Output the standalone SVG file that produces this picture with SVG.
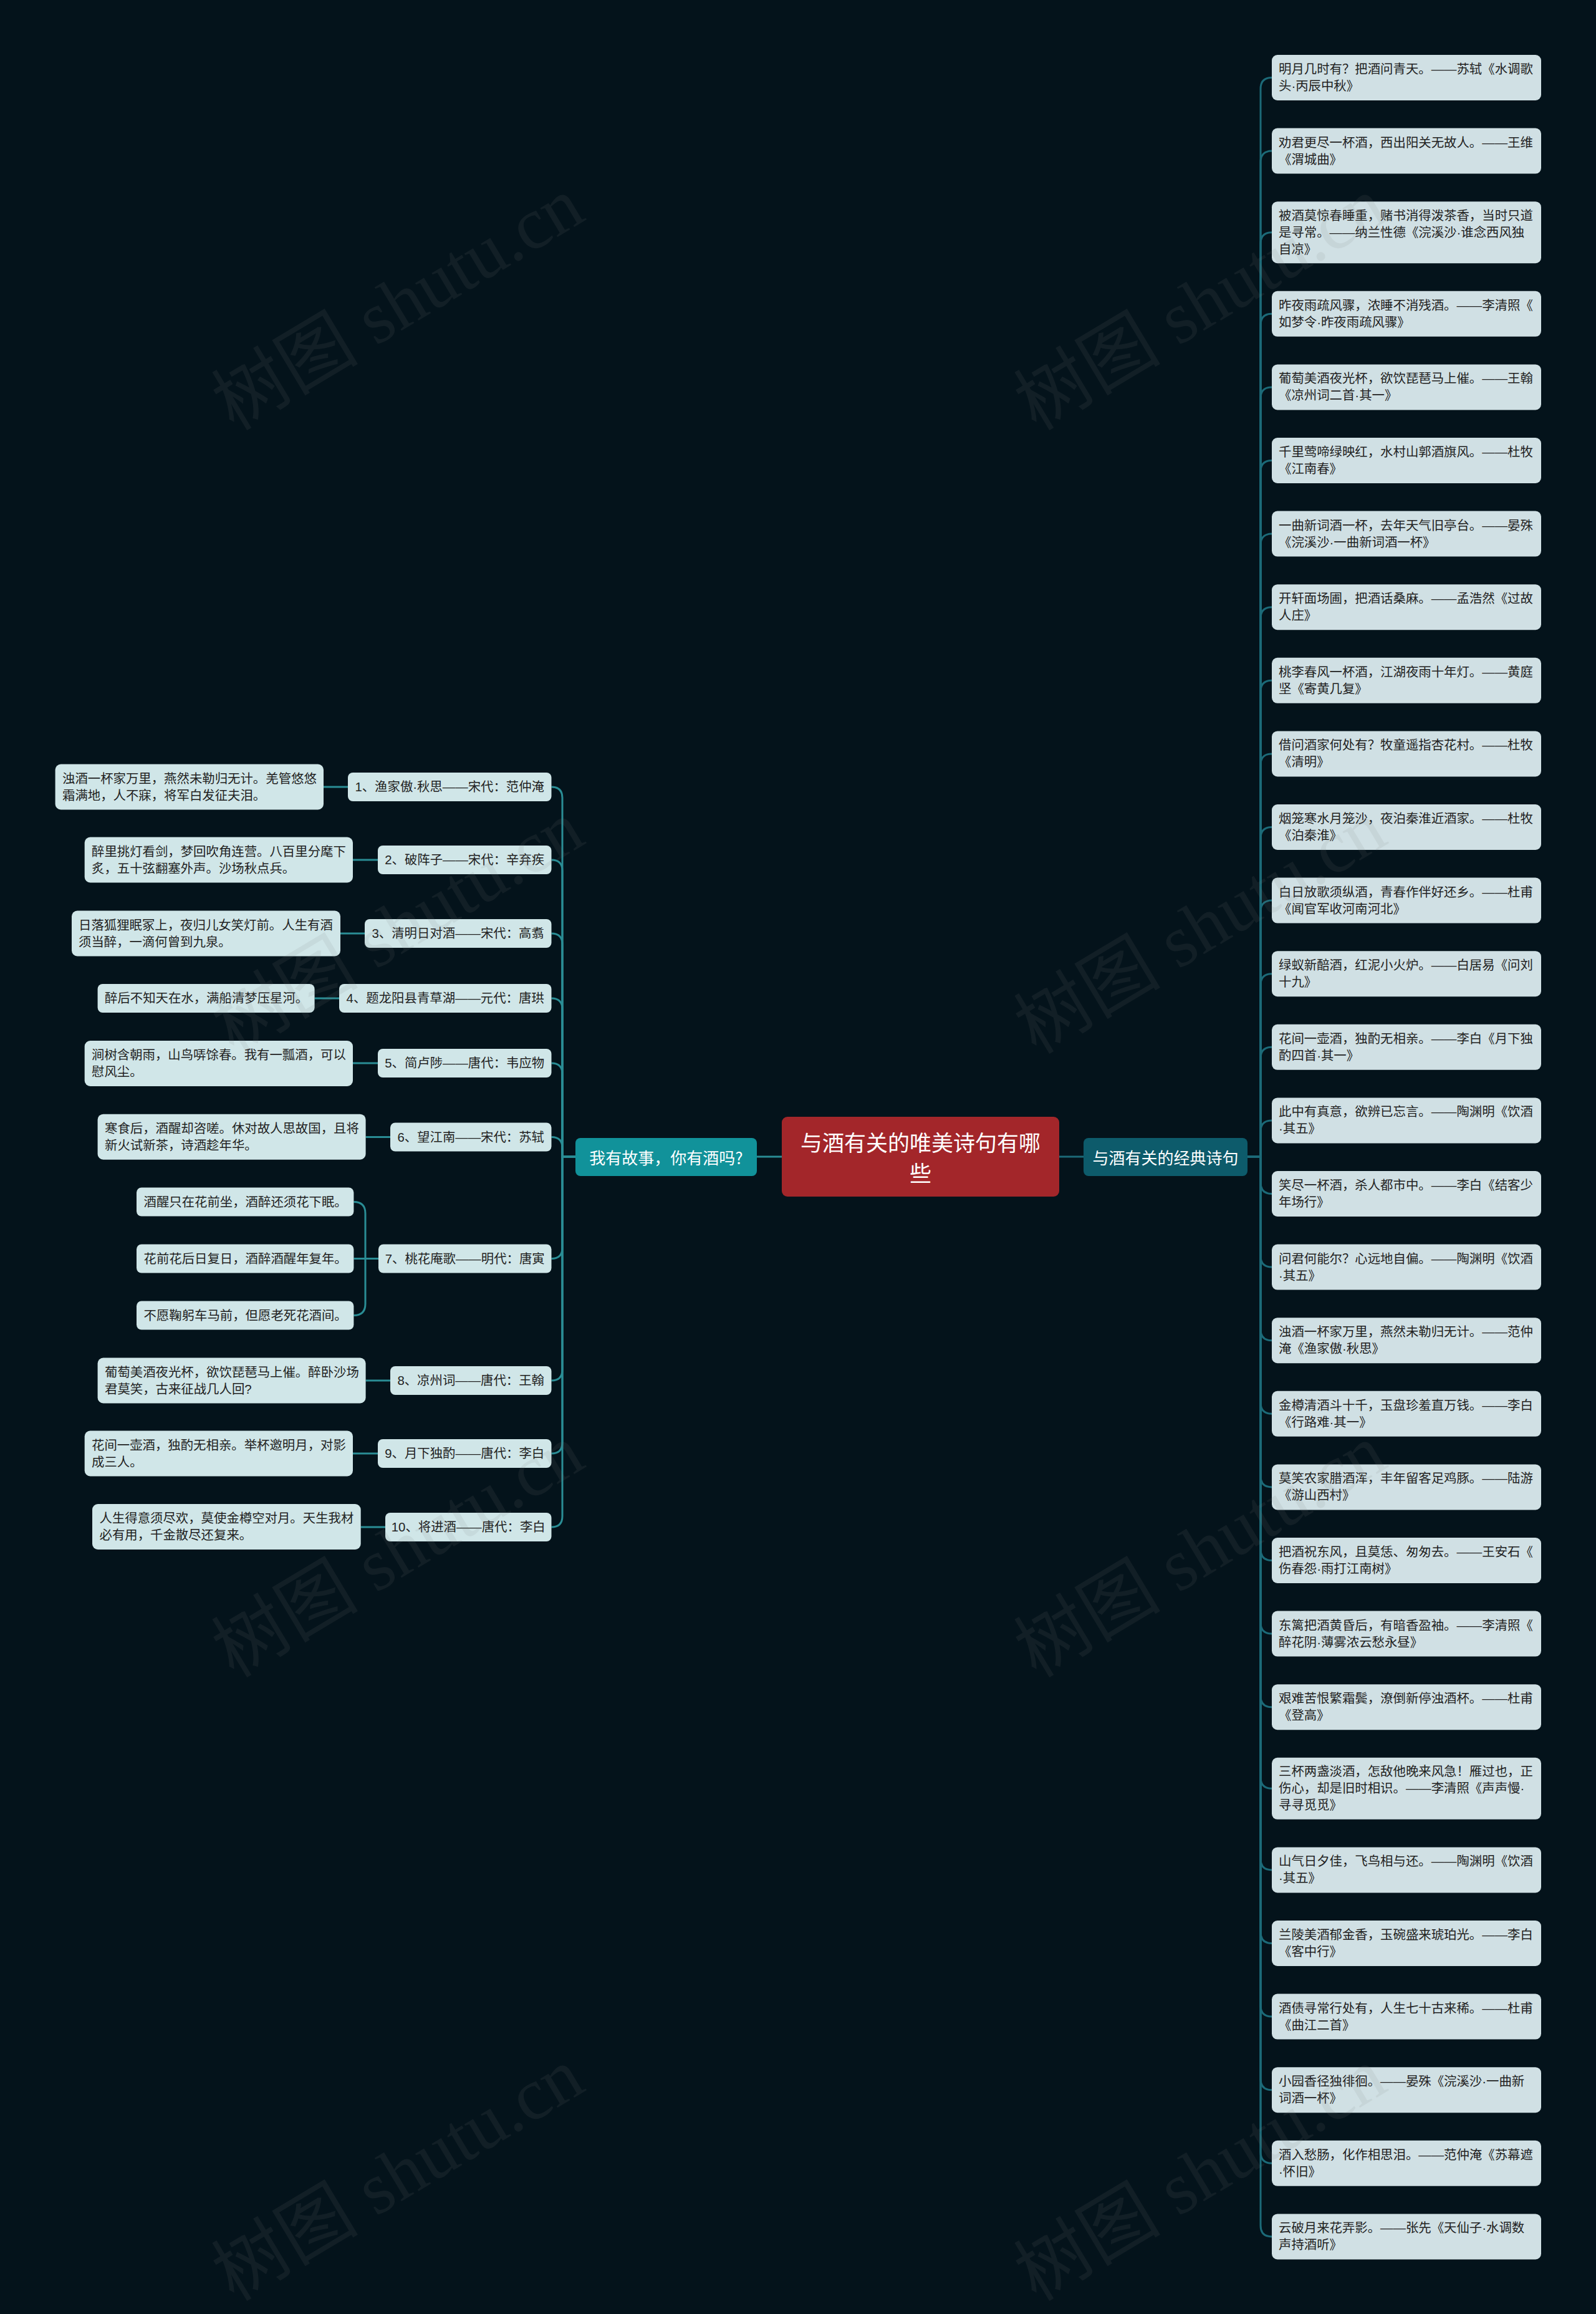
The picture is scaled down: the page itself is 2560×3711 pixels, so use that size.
<svg xmlns="http://www.w3.org/2000/svg" width="2560" height="3711" viewBox="0 0 2560 3711">
<style>
.t{font-family:"Liberation Sans","Noto Sans CJK SC",sans-serif;font-size:20.4px;fill:#222;dominant-baseline:central}
.tm{text-anchor:middle}
.w{font-family:"Noto Sans CJK SC","Liberation Sans",sans-serif;fill:#fff;dominant-baseline:central;text-anchor:middle}
.lr{fill:#d0e0e4}
.ll{fill:#d0e6e8}
.cr{fill:none;stroke:#1c6a78;stroke-width:3}
.cl{fill:none;stroke:#2a8d95;stroke-width:3}
.wm{font-family:"Liberation Serif","Noto Sans CJK SC",serif;font-size:118px;fill:#808080;opacity:0.11}
</style>
<rect x="0" y="0" width="2560" height="3711" fill="#04131b"/>

<g id="connectors">
<path class="cl" d="M1214 1855H1254"/>
<path class="cr" d="M1699 1855H1738"/>
<path class="cr" d="M2001 1855H2022V142.5Q2022 124.5 2040 124.5"/>
<path class="cr" d="M2001 1855H2022V260.1Q2022 242.1 2040 242.1"/>
<path class="cr" d="M2001 1855H2022V390.7Q2022 372.7 2040 372.7"/>
<path class="cr" d="M2001 1855H2022V521.3Q2022 503.3 2040 503.3"/>
<path class="cr" d="M2001 1855H2022V638.9Q2022 620.9 2040 620.9"/>
<path class="cr" d="M2001 1855H2022V756.5Q2022 738.5 2040 738.5"/>
<path class="cr" d="M2001 1855H2022V874.1Q2022 856.1 2040 856.1"/>
<path class="cr" d="M2001 1855H2022V991.7Q2022 973.7 2040 973.7"/>
<path class="cr" d="M2001 1855H2022V1109.3Q2022 1091.3 2040 1091.3"/>
<path class="cr" d="M2001 1855H2022V1226.9Q2022 1208.9 2040 1208.9"/>
<path class="cr" d="M2001 1855H2022V1344.5Q2022 1326.5 2040 1326.5"/>
<path class="cr" d="M2001 1855H2022V1462.1Q2022 1444.1 2040 1444.1"/>
<path class="cr" d="M2001 1855H2022V1579.7Q2022 1561.7 2040 1561.7"/>
<path class="cr" d="M2001 1855H2022V1697.3Q2022 1679.3 2040 1679.3"/>
<path class="cr" d="M2001 1855H2022V1814.9Q2022 1796.9 2040 1796.9"/>
<path class="cr" d="M2001 1855H2022V1896.5Q2022 1914.5 2040 1914.5"/>
<path class="cr" d="M2001 1855H2022V2014.1Q2022 2032.1 2040 2032.1"/>
<path class="cr" d="M2001 1855H2022V2131.7Q2022 2149.7 2040 2149.7"/>
<path class="cr" d="M2001 1855H2022V2249.3Q2022 2267.3 2040 2267.3"/>
<path class="cr" d="M2001 1855H2022V2366.9Q2022 2384.9 2040 2384.9"/>
<path class="cr" d="M2001 1855H2022V2484.5Q2022 2502.5 2040 2502.5"/>
<path class="cr" d="M2001 1855H2022V2602.1Q2022 2620.1 2040 2620.1"/>
<path class="cr" d="M2001 1855H2022V2719.7Q2022 2737.7 2040 2737.7"/>
<path class="cr" d="M2001 1855H2022V2850.3Q2022 2868.3 2040 2868.3"/>
<path class="cr" d="M2001 1855H2022V2980.9Q2022 2998.9 2040 2998.9"/>
<path class="cr" d="M2001 1855H2022V3098.5Q2022 3116.5 2040 3116.5"/>
<path class="cr" d="M2001 1855H2022V3216.1Q2022 3234.1 2040 3234.1"/>
<path class="cr" d="M2001 1855H2022V3333.7Q2022 3351.7 2040 3351.7"/>
<path class="cr" d="M2001 1855H2022V3451.3Q2022 3469.3 2040 3469.3"/>
<path class="cr" d="M2001 1855H2022V3568.9Q2022 3586.9 2040 3586.9"/>
<path class="cl" d="M923 1855H902V1279.5Q902 1262 884.5 1262"/>
<path class="cl" d="M923 1855H902V1396.5Q902 1379 884.5 1379"/>
<path class="cl" d="M923 1855H902V1514.5Q902 1497 884.5 1497"/>
<path class="cl" d="M923 1855H902V1618.5Q902 1601 884.5 1601"/>
<path class="cl" d="M923 1855H902V1722.5Q902 1705 884.5 1705"/>
<path class="cl" d="M923 1855H902V1841Q902 1823.5 884.5 1823.5"/>
<path class="cl" d="M923 1855H902V2001Q902 2018.5 884.5 2018.5"/>
<path class="cl" d="M923 1855H902V2196.5Q902 2214 884.5 2214"/>
<path class="cl" d="M923 1855H902V2313.5Q902 2331 884.5 2331"/>
<path class="cl" d="M923 1855H902V2431.5Q902 2449 884.5 2449"/>
<path class="cl" d="M558 1262H519"/>
<path class="cl" d="M606 1379H566"/>
<path class="cl" d="M585 1497H546"/>
<path class="cl" d="M544 1601H504.6"/>
<path class="cl" d="M606 1705H566"/>
<path class="cl" d="M626 1823.5H586.6"/>
<path class="cl" d="M607 2018.5H586V1946Q586 1927.5 567.4 1927.5"/>
<path class="cl" d="M607 2018.5H567.4"/>
<path class="cl" d="M607 2018.5H586V2091Q586 2109.5 567.4 2109.5"/>
<path class="cl" d="M626 2214H586.6"/>
<path class="cl" d="M606 2331H566"/>
<path class="cl" d="M618 2449H578.7"/>
</g>

<g id="root">
<rect x="1254" y="1791" width="445" height="128" rx="9" fill="#a3262a"/>
<text class="w" x="1476.5" y="1830.5" font-size="35">与酒有关的唯美诗句有哪</text>
<text class="w" x="1476.5" y="1879.5" font-size="35">些</text>
</g>
<g id="main-left">
<rect x="923" y="1825" width="291" height="61" rx="8" fill="#11929a"/>
<text class="w" x="1068.5" y="1855.5" font-size="26">我有故事，你有酒吗?</text>
</g>
<g id="main-right">
<rect x="1738" y="1825" width="263" height="61" rx="8" fill="#0d5b6b"/>
<text class="w" x="1869.5" y="1855.5" font-size="26">与酒有关的经典诗句</text>
</g>

<g id="r1"><rect class="lr" x="2040" y="88" width="432" height="73" rx="9"/><text class="t" x="2051" y="111">明月几时有？把酒问青天。——苏轼《水调歌</text><text class="t" x="2051" y="138">头·丙辰中秋》</text></g>
<g id="r2"><rect class="lr" x="2040" y="205.6" width="432" height="73" rx="9"/><text class="t" x="2051" y="228.6">劝君更尽一杯酒，西出阳关无故人。——王维</text><text class="t" x="2051" y="255.6">《渭城曲》</text></g>
<g id="r3"><rect class="lr" x="2040" y="323.2" width="432" height="99" rx="9"/><text class="t" x="2051" y="345.7">被酒莫惊春睡重，赌书消得泼茶香，当时只道</text><text class="t" x="2051" y="372.7">是寻常。——纳兰性德《浣溪沙·谁念西风独</text><text class="t" x="2051" y="399.7">自凉》</text></g>
<g id="r4"><rect class="lr" x="2040" y="466.8" width="432" height="73" rx="9"/><text class="t" x="2051" y="489.8">昨夜雨疏风骤，浓睡不消残酒。——李清照《</text><text class="t" x="2051" y="516.8">如梦令·昨夜雨疏风骤》</text></g>
<g id="r5"><rect class="lr" x="2040" y="584.4" width="432" height="73" rx="9"/><text class="t" x="2051" y="607.4">葡萄美酒夜光杯，欲饮琵琶马上催。——王翰</text><text class="t" x="2051" y="634.4">《凉州词二首·其一》</text></g>
<g id="r6"><rect class="lr" x="2040" y="702" width="432" height="73" rx="9"/><text class="t" x="2051" y="725">千里莺啼绿映红，水村山郭酒旗风。——杜牧</text><text class="t" x="2051" y="752">《江南春》</text></g>
<g id="r7"><rect class="lr" x="2040" y="819.6" width="432" height="73" rx="9"/><text class="t" x="2051" y="842.6">一曲新词酒一杯，去年天气旧亭台。——晏殊</text><text class="t" x="2051" y="869.6">《浣溪沙·一曲新词酒一杯》</text></g>
<g id="r8"><rect class="lr" x="2040" y="937.2" width="432" height="73" rx="9"/><text class="t" x="2051" y="960.2">开轩面场圃，把酒话桑麻。——孟浩然《过故</text><text class="t" x="2051" y="987.2">人庄》</text></g>
<g id="r9"><rect class="lr" x="2040" y="1054.8" width="432" height="73" rx="9"/><text class="t" x="2051" y="1077.8">桃李春风一杯酒，江湖夜雨十年灯。——黄庭</text><text class="t" x="2051" y="1104.8">坚《寄黄几复》</text></g>
<g id="r10"><rect class="lr" x="2040" y="1172.4" width="432" height="73" rx="9"/><text class="t" x="2051" y="1195.4">借问酒家何处有？牧童遥指杏花村。——杜牧</text><text class="t" x="2051" y="1222.4">《清明》</text></g>
<g id="r11"><rect class="lr" x="2040" y="1290" width="432" height="73" rx="9"/><text class="t" x="2051" y="1313">烟笼寒水月笼沙，夜泊秦淮近酒家。——杜牧</text><text class="t" x="2051" y="1340">《泊秦淮》</text></g>
<g id="r12"><rect class="lr" x="2040" y="1407.6" width="432" height="73" rx="9"/><text class="t" x="2051" y="1430.6">白日放歌须纵酒，青春作伴好还乡。——杜甫</text><text class="t" x="2051" y="1457.6">《闻官军收河南河北》</text></g>
<g id="r13"><rect class="lr" x="2040" y="1525.2" width="432" height="73" rx="9"/><text class="t" x="2051" y="1548.2">绿蚁新醅酒，红泥小火炉。——白居易《问刘</text><text class="t" x="2051" y="1575.2">十九》</text></g>
<g id="r14"><rect class="lr" x="2040" y="1642.8" width="432" height="73" rx="9"/><text class="t" x="2051" y="1665.8">花间一壶酒，独酌无相亲。——李白《月下独</text><text class="t" x="2051" y="1692.8">酌四首·其一》</text></g>
<g id="r15"><rect class="lr" x="2040" y="1760.4" width="432" height="73" rx="9"/><text class="t" x="2051" y="1783.4">此中有真意，欲辨已忘言。——陶渊明《饮酒</text><text class="t" x="2051" y="1810.4">·其五》</text></g>
<g id="r16"><rect class="lr" x="2040" y="1878" width="432" height="73" rx="9"/><text class="t" x="2051" y="1901">笑尽一杯酒，杀人都市中。——李白《结客少</text><text class="t" x="2051" y="1928">年场行》</text></g>
<g id="r17"><rect class="lr" x="2040" y="1995.6" width="432" height="73" rx="9"/><text class="t" x="2051" y="2018.6">问君何能尔？心远地自偏。——陶渊明《饮酒</text><text class="t" x="2051" y="2045.6">·其五》</text></g>
<g id="r18"><rect class="lr" x="2040" y="2113.2" width="432" height="73" rx="9"/><text class="t" x="2051" y="2136.2">浊酒一杯家万里，燕然未勒归无计。——范仲</text><text class="t" x="2051" y="2163.2">淹《渔家傲·秋思》</text></g>
<g id="r19"><rect class="lr" x="2040" y="2230.8" width="432" height="73" rx="9"/><text class="t" x="2051" y="2253.8">金樽清酒斗十千，玉盘珍羞直万钱。——李白</text><text class="t" x="2051" y="2280.8">《行路难·其一》</text></g>
<g id="r20"><rect class="lr" x="2040" y="2348.4" width="432" height="73" rx="9"/><text class="t" x="2051" y="2371.4">莫笑农家腊酒浑，丰年留客足鸡豚。——陆游</text><text class="t" x="2051" y="2398.4">《游山西村》</text></g>
<g id="r21"><rect class="lr" x="2040" y="2466" width="432" height="73" rx="9"/><text class="t" x="2051" y="2489">把酒祝东风，且莫恁、匆匆去。——王安石《</text><text class="t" x="2051" y="2516">伤春怨·雨打江南树》</text></g>
<g id="r22"><rect class="lr" x="2040" y="2583.6" width="432" height="73" rx="9"/><text class="t" x="2051" y="2606.6">东篱把酒黄昏后，有暗香盈袖。——李清照《</text><text class="t" x="2051" y="2633.6">醉花阴·薄雾浓云愁永昼》</text></g>
<g id="r23"><rect class="lr" x="2040" y="2701.2" width="432" height="73" rx="9"/><text class="t" x="2051" y="2724.2">艰难苦恨繁霜鬓，潦倒新停浊酒杯。——杜甫</text><text class="t" x="2051" y="2751.2">《登高》</text></g>
<g id="r24"><rect class="lr" x="2040" y="2818.8" width="432" height="99" rx="9"/><text class="t" x="2051" y="2841.3">三杯两盏淡酒，怎敌他晚来风急！雁过也，正</text><text class="t" x="2051" y="2868.3">伤心，却是旧时相识。——李清照《声声慢·</text><text class="t" x="2051" y="2895.3">寻寻觅觅》</text></g>
<g id="r25"><rect class="lr" x="2040" y="2962.4" width="432" height="73" rx="9"/><text class="t" x="2051" y="2985.4">山气日夕佳，飞鸟相与还。——陶渊明《饮酒</text><text class="t" x="2051" y="3012.4">·其五》</text></g>
<g id="r26"><rect class="lr" x="2040" y="3080" width="432" height="73" rx="9"/><text class="t" x="2051" y="3103">兰陵美酒郁金香，玉碗盛来琥珀光。——李白</text><text class="t" x="2051" y="3130">《客中行》</text></g>
<g id="r27"><rect class="lr" x="2040" y="3197.6" width="432" height="73" rx="9"/><text class="t" x="2051" y="3220.6">酒债寻常行处有，人生七十古来稀。——杜甫</text><text class="t" x="2051" y="3247.6">《曲江二首》</text></g>
<g id="r28"><rect class="lr" x="2040" y="3315.2" width="432" height="73" rx="9"/><text class="t" x="2051" y="3338.2">小园香径独徘徊。——晏殊《浣溪沙·一曲新</text><text class="t" x="2051" y="3365.2">词酒一杯》</text></g>
<g id="r29"><rect class="lr" x="2040" y="3432.8" width="432" height="73" rx="9"/><text class="t" x="2051" y="3455.8">酒入愁肠，化作相思泪。——范仲淹《苏幕遮</text><text class="t" x="2051" y="3482.8">·怀旧》</text></g>
<g id="r30"><rect class="lr" x="2040" y="3550.4" width="432" height="73" rx="9"/><text class="t" x="2051" y="3573.4">云破月来花弄影。——张先《天仙子·水调数</text><text class="t" x="2051" y="3600.4">声持酒听》</text></g>

<g id="l1"><rect class="ll" x="558" y="1239" width="326.5" height="46" rx="8"/><text class="t tm" x="721.2" y="1262">1、渔家傲·秋思——宋代：范仲淹</text></g>
<g id="l2"><rect class="ll" x="606" y="1356" width="278.5" height="46" rx="8"/><text class="t tm" x="745.2" y="1379">2、破阵子——宋代：辛弃疾</text></g>
<g id="l3"><rect class="ll" x="585" y="1474" width="299.5" height="46" rx="8"/><text class="t tm" x="734.7" y="1497">3、清明日对酒——宋代：高翥</text></g>
<g id="l4"><rect class="ll" x="544" y="1578" width="340.5" height="46" rx="8"/><text class="t tm" x="714.2" y="1601">4、题龙阳县青草湖——元代：唐珙</text></g>
<g id="l5"><rect class="ll" x="606" y="1682" width="278.5" height="46" rx="8"/><text class="t tm" x="745.2" y="1705">5、简卢陟——唐代：韦应物</text></g>
<g id="l6"><rect class="ll" x="626" y="1800.5" width="258.5" height="46" rx="8"/><text class="t tm" x="755.2" y="1823.5">6、望江南——宋代：苏轼</text></g>
<g id="l7"><rect class="ll" x="607" y="1995.5" width="277.5" height="46" rx="8"/><text class="t tm" x="745.7" y="2018.5">7、桃花庵歌——明代：唐寅</text></g>
<g id="l8"><rect class="ll" x="626" y="2191" width="258.5" height="46" rx="8"/><text class="t tm" x="755.2" y="2214">8、凉州词——唐代：王翰</text></g>
<g id="l9"><rect class="ll" x="606" y="2308" width="278.5" height="46" rx="8"/><text class="t tm" x="745.2" y="2331">9、月下独酌——唐代：李白</text></g>
<g id="l10"><rect class="ll" x="618" y="2426" width="266.5" height="46" rx="8"/><text class="t tm" x="751.2" y="2449">10、将进酒——唐代：李白</text></g>

<g id="c1"><rect class="ll" x="88.6" y="1225.5" width="430.4" height="73" rx="9"/><text class="t" x="100" y="1248.5">浊酒一杯家万里，燕然未勒归无计。羌管悠悠</text><text class="t" x="100" y="1275.5">霜满地，人不寐，将军白发征夫泪。</text></g>
<g id="c2"><rect class="ll" x="135.7" y="1342.5" width="430.3" height="73" rx="9"/><text class="t" x="147" y="1365.5">醉里挑灯看剑，梦回吹角连营。八百里分麾下</text><text class="t" x="147" y="1392.5">炙，五十弦翻塞外声。沙场秋点兵。</text></g>
<g id="c3"><rect class="ll" x="115" y="1460.5" width="431" height="73" rx="9"/><text class="t" x="126" y="1483.5">日落狐狸眠冢上，夜归儿女笑灯前。人生有酒</text><text class="t" x="126" y="1510.5">须当醉，一滴何曾到九泉。</text></g>
<g id="c4"><rect class="ll" x="156.6" y="1578" width="348" height="46" rx="8"/><text class="t" x="168" y="1601">醉后不知天在水，满船清梦压星河。</text></g>
<g id="c5"><rect class="ll" x="135.7" y="1669" width="430.3" height="73" rx="9"/><text class="t" x="147" y="1692">涧树含朝雨，山鸟哢馀春。我有一瓢酒，可以</text><text class="t" x="147" y="1719">慰风尘。</text></g>
<g id="c6"><rect class="ll" x="156.6" y="1786.7" width="430" height="73" rx="9"/><text class="t" x="168" y="1809.7">寒食后，酒醒却咨嗟。休对故人思故国，且将</text><text class="t" x="168" y="1836.7">新火试新茶，诗酒趁年华。</text></g>
<g id="c7a"><rect class="ll" x="219" y="1904.5" width="348.4" height="46" rx="8"/><text class="t" x="230.5" y="1927.5">酒醒只在花前坐，酒醉还须花下眠。</text></g>
<g id="c7b"><rect class="ll" x="219" y="1995.5" width="348.4" height="46" rx="8"/><text class="t" x="230.5" y="2018.5">花前花后日复日，酒醉酒醒年复年。</text></g>
<g id="c7c"><rect class="ll" x="219" y="2086.5" width="348.4" height="46" rx="8"/><text class="t" x="230.5" y="2109.5">不愿鞠躬车马前，但愿老死花酒间。</text></g>
<g id="c8"><rect class="ll" x="156.6" y="2177.5" width="430" height="73" rx="9"/><text class="t" x="168" y="2200.5">葡萄美酒夜光杯，欲饮琵琶马上催。醉卧沙场</text><text class="t" x="168" y="2227.5">君莫笑，古来征战几人回?</text></g>
<g id="c9"><rect class="ll" x="135.7" y="2294.5" width="430.3" height="73" rx="9"/><text class="t" x="147" y="2317.5">花间一壶酒，独酌无相亲。举杯邀明月，对影</text><text class="t" x="147" y="2344.5">成三人。</text></g>
<g id="c10"><rect class="ll" x="148" y="2412" width="430.7" height="73" rx="9"/><text class="t" x="159.5" y="2435">人生得意须尽欢，莫使金樽空对月。天生我材</text><text class="t" x="159.5" y="2462">必有用，千金散尽还复来。</text></g>

<g id="watermark">
<text class="wm" x="375" y="692" transform="rotate(-31 375 692)">树图 shutu.cn</text>
<text class="wm" x="1662" y="692" transform="rotate(-31 1662 692)">树图 shutu.cn</text>
<text class="wm" x="375" y="1692" transform="rotate(-31 375 1692)">树图 shutu.cn</text>
<text class="wm" x="1662" y="1692" transform="rotate(-31 1662 1692)">树图 shutu.cn</text>
<text class="wm" x="375" y="2692" transform="rotate(-31 375 2692)">树图 shutu.cn</text>
<text class="wm" x="1662" y="2692" transform="rotate(-31 1662 2692)">树图 shutu.cn</text>
<text class="wm" x="375" y="3692" transform="rotate(-31 375 3692)">树图 shutu.cn</text>
<text class="wm" x="1662" y="3692" transform="rotate(-31 1662 3692)">树图 shutu.cn</text>
</g>
</svg>
